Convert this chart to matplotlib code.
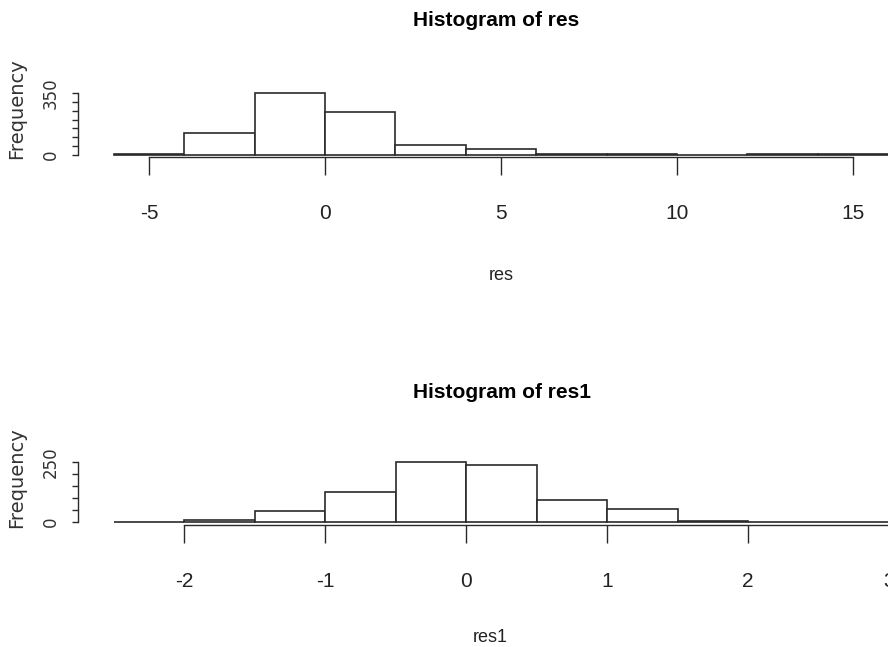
import numpy as np
import matplotlib
matplotlib.use("Agg")
import matplotlib.pyplot as plt

# top histogram (res): bin edges and counts
res_edges = np.arange(-6, 20, 2)
res_counts = [8, 124, 350, 243, 56, 34, 8, 7, 0, 6, 6, 0]
res_ticks = [-5, 0, 5, 10, 15]

# bottom histogram (res1)
res1_edges = np.arange(-2.5, 4.0, 0.5)
res1_counts = [0, 10, 46, 125, 250, 237, 92, 54, 5, 0, 0, 0]
res1_ticks = [-2, -1, 0, 1, 2, 3]

W, H = 888, 647
narrow = ["Liberation Sans Narrow", "Liberation Sans", "DejaVu Sans"]
line_col = "#2a2a2a"


def px_axes(fig, left, top, right, bottom):
    return fig.add_axes([left / W, 1 - bottom / H, (right - left) / W, (bottom - top) / H])


def draw_hist(ax, edges, counts, ticks, ytop, xlim, ylim):
    ax.bar(edges[:-1], counts, width=np.diff(edges), align="edge",
           facecolor="white", edgecolor=line_col, linewidth=1.2)
    ax.set_xlim(*xlim)
    ax.set_ylim(*ylim)
    for s in ["top", "right"]:
        ax.spines[s].set_visible(False)
    ax.spines["bottom"].set_bounds(ticks[0], ticks[-1])
    ax.spines["left"].set_bounds(0, ytop)
    for s in ["bottom", "left"]:
        ax.spines[s].set_color(line_col)
        ax.spines[s].set_linewidth(1.0)
    ax.set_xticks(ticks)
    ax.set_xticklabels([str(t) for t in ticks], family=narrow, fontsize=15, color="#222222")
    ax.tick_params(axis="x", length=13, width=1.0, color=line_col, pad=21)
    yt = np.arange(0, ytop + 1, 50)
    ax.set_yticks(yt)
    ax.set_yticklabels([str(v) if v in (0, ytop) else "" for v in yt],
                       rotation=90, va="center", fontsize=12, color="#333333")
    ax.tick_params(axis="y", length=4, width=1.0, color=line_col, pad=9)
    ax.set_ylabel("Frequency", fontsize=14, color="#333333")
    ax.patch.set_alpha(0)


fig = plt.figure(figsize=(W / 100, H / 100), dpi=100)

# top panel: 0 -> y=155px, 350 -> y=93px ; -5 -> x=149px, 35.2 px per unit
ax1 = px_axes(fig, 78, 60, 960, 157)
s1 = 350 / 62.0
draw_hist(ax1, res_edges, res_counts, res_ticks, 350,
          (-5 - 71 / 35.2, -5 + 811 / 35.2), (-2 * s1, 350 + 33 * s1))
ax1.yaxis.set_label_coords(-52 / 882, 0.5)

# bottom panel: 0 -> y=522px, 250 -> y=462px ; 0 -> x=466px, 141 px per unit
ax2 = px_axes(fig, 78, 430, 960, 525)
s2 = 250 / 60.0
draw_hist(ax2, res1_edges, res1_counts, res1_ticks, 250,
          (-388 / 141, 494 / 141), (-3 * s2, 250 + 32 * s2))
ax2.yaxis.set_label_coords(-52 / 882, 0.5)

fig.text(496 / W, 1 - 20 / H, "Histogram of res", family=narrow, fontweight="bold",
         fontsize=15, ha="center", va="center")
fig.text(501 / W, 1 - 275 / H, "res", family=narrow, fontsize=13, ha="center", va="center",
         color="#222222")
fig.text(502 / W, 1 - 392 / H, "Histogram of res1", family=narrow, fontweight="bold",
         fontsize=15, ha="center", va="center")
fig.text(490 / W, 1 - 637 / H, "res1", family=narrow, fontsize=13, ha="center", va="center",
         color="#222222")

fig.savefig("out.png", dpi=100)
